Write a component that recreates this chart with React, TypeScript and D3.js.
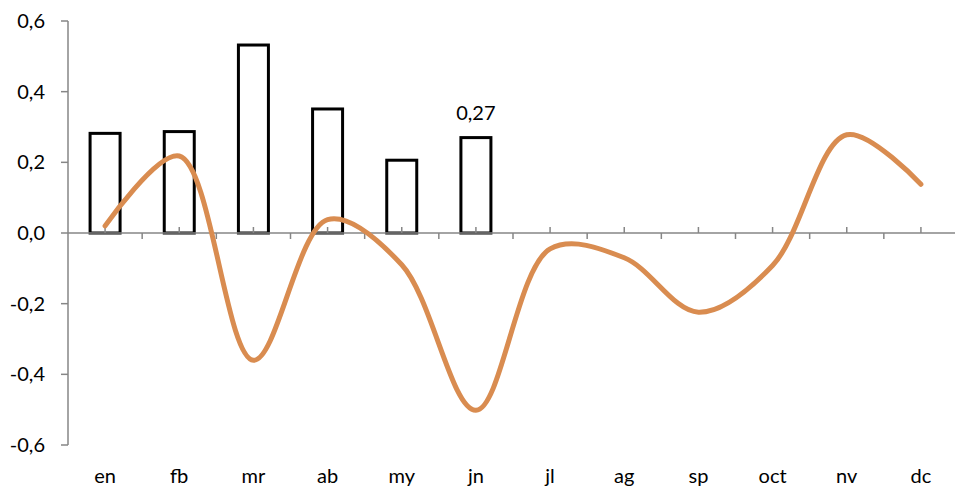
import React from "react";
import * as d3 from "d3";

const months = ["en", "fb", "mr", "ab", "my", "jn", "jl", "ag", "sp", "oct", "nv", "dc"];
const barMonths = ["en", "fb", "mr", "ab", "my", "jn"];
const barValues = [0.282, 0.287, 0.532, 0.351, 0.206, 0.27];
const lineValues = [0.02, 0.218, -0.36, 0.038, -0.09, -0.502, -0.045, -0.07, -0.224, -0.092, 0.278, 0.138];
const yTicks = [-0.6, -0.4, -0.2, 0, 0.2, 0.4, 0.6];
const labelMonth = "jn";
const labelText = "0,27";

const W = 955;
const H = 488;
const FONT = "Lato, 'Open Sans', sans-serif";

export default function App() {
  const x = d3.scaleBand<string>().domain(months).range([68, 958]).paddingInner(0).paddingOuter(0);
  const y = d3.scaleLinear().domain([-0.6, 0.6]).range([445, 21]);
  const bw = x.bandwidth();
  const barW = 30;
  const cx = (m: string) => (x(m) as number) + bw / 2;
  const fmt = (v: number) => d3.format(".1f")(v).replace(".", ",").replace("−", "-");

  const line = d3
    .line<number>()
    .x((_, i) => cx(months[i]))
    .y((d) => y(d))
    .curve(d3.curveCatmullRom.alpha(0.5));

  const axisColor = "#868686";
  const y0 = y(0);

  return (
    <svg
      width={W}
      height={H}
      style={{ position: "absolute", left: 0, top: 0, background: "#fff" }}
      fontFamily={FONT}
    >
      {/* y axis */}
      <line x1={68} x2={68} y1={y(0.6)} y2={y(-0.6)} stroke={axisColor} strokeWidth={1.5} />
      {yTicks.map((t) => (
        <g key={t}>
          <line x1={61} x2={68} y1={y(t)} y2={y(t)} stroke={axisColor} strokeWidth={1.5} />
          <text x={45} y={y(t)} dy="0.35em" textAnchor="end" fontSize={20} fill="#000">
            {fmt(t)}
          </text>
        </g>
      ))}
      {/* bars */}
      {barMonths.map((m, i) => (
        <rect
          key={m}
          x={cx(m) - barW / 2}
          y={y(barValues[i])}
          width={barW}
          height={y0 - y(barValues[i])}
          fill="#fff"
          stroke="#000"
          strokeWidth={3}
        />
      ))}
      {/* x axis */}
      <line x1={68} x2={958} y1={y0} y2={y0} stroke={axisColor} strokeWidth={1.5} />
      {months.map((m) => (
        <g key={m}>
          <line x1={(x(m) as number) + bw} x2={(x(m) as number) + bw} y1={y0} y2={y0 + 6} stroke={axisColor} strokeWidth={1.5} />
          <line x1={cx(m)} x2={cx(m)} y1={y0 - 6} y2={y0} stroke={axisColor} strokeWidth={1.5} />
          <text x={cx(m)} y={483} textAnchor="middle" fontSize={20} fill="#000">
            {m}
          </text>
        </g>
      ))}
      {/* line */}
      <path d={line(lineValues) || ""} fill="none" stroke="#D98C50" strokeWidth={5} strokeLinecap="round" />
      {/* data label */}
      <text
        x={cx(labelMonth)}
        y={y(barValues[barMonths.indexOf(labelMonth)]) - 18}
        textAnchor="middle"
        fontSize={20}
        fill="#000"
      >
        {labelText}
      </text>
    </svg>
  );
}
